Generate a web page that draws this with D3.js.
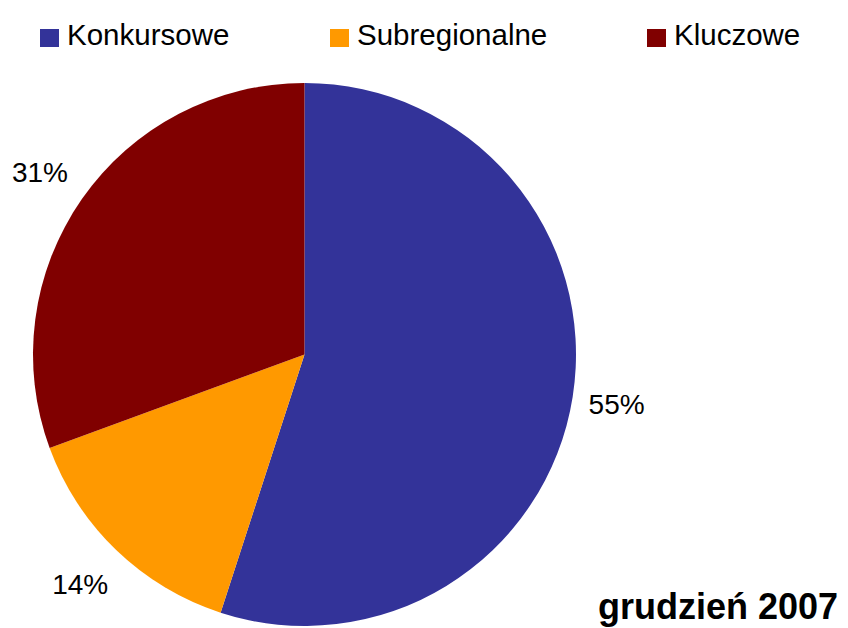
<!doctype html>
<html lang="pl">
<head>
    <meta charset="UTF-8" />
    <title>grudzień 2007</title>
    <script src="https://d3js.org/d3.v7.min.js"></script>
    <style>
        body, html {
            margin: 0;
            padding: 0;
            background: #ffffff;
            overflow: hidden;
        }
        svg {
            display: block;
            font-family: "Liberation Sans", Arial, sans-serif;
        }
    </style>
</head>
<body>
    <svg id="chart"></svg>
    <script>
        // data
        const categories = ["Konkursowe", "Subregionalne", "Kluczowe"];
        const shares = [55.0, 14.4, 30.6];
        const colors = ["#333399", "#ff9900", "#800000"];
        const title = "grudzień 2007";

        const width = 848;
        const height = 628;
        const cx = 304.5;
        const cy = 354.5;
        const radius = 271.5;

        const svg = d3.select("#chart")
            .attr("width", width)
            .attr("height", height);

        const data = categories.map((c, i) => ({ name: c, value: shares[i], color: colors[i] }));
        const total = d3.sum(shares);
        const pct = d3.format(".0%");

        const pie = d3.pie().sort(null).value(d => d.value);
        const arc = d3.arc().innerRadius(0).outerRadius(radius);
        const labelArc = d3.arc().innerRadius(319).outerRadius(319);

        const g = svg.append("g").attr("transform", `translate(${cx},${cy})`);
        const arcs = pie(data);

        g.selectAll("path.slice")
            .data(arcs)
            .join("path")
            .attr("class", "slice")
            .attr("d", arc)
            .attr("fill", d => d.data.color);

        g.selectAll("text.lbl")
            .data(arcs)
            .join("text")
            .attr("class", "lbl")
            .attr("transform", d => {
                const [x, y] = labelArc.centroid(d);
                return `translate(${x - 3},${y})`;
            })
            .attr("text-anchor", "middle")
            .attr("dy", "0.36em")
            .attr("font-size", 28)
            .attr("fill", "#000")
            .text(d => pct(d.data.value / total));

        // legend
        const legendX = [40, 330, 647];
        const legend = svg.selectAll("g.legend")
            .data(data)
            .join("g")
            .attr("class", "legend")
            .attr("transform", (d, i) => `translate(${legendX[i]},29)`);

        legend.append("rect")
            .attr("width", 19)
            .attr("height", 18)
            .attr("fill", d => d.color);

        legend.append("text")
            .attr("x", 27)
            .attr("y", 15.5)
            .attr("font-size", 29.5)
            .attr("fill", "#000")
            .text(d => d.name);

        svg.append("text")
            .attr("x", 838)
            .attr("y", 619)
            .attr("text-anchor", "end")
            .attr("font-size", 36)
            .attr("font-weight", "bold")
            .attr("fill", "#000")
            .text(title);
    </script>
</body>
</html>
